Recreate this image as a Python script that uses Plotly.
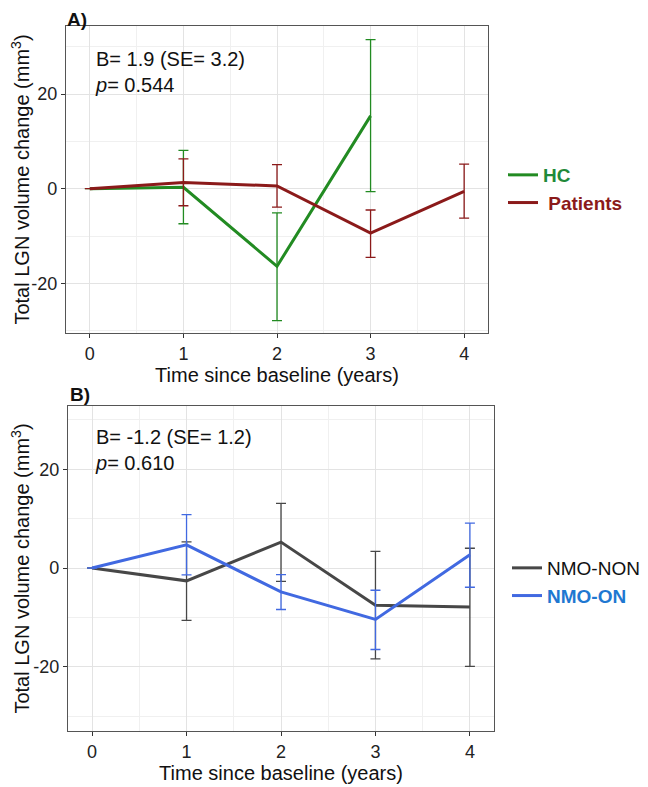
import plotly.graph_objects as go

# ---- Data ----
years = [0, 1, 2, 3, 4]

hc_years = [0, 1, 2, 3]
hc_mean = [0, 0.3, -16.4, 15.4]
hc_low = [0, -7.4, -27.9, -0.6]
hc_high = [0, 8.1, -5.1, 31.5]

pat_mean = [0, 1.3, 0.6, -9.4, -0.55]
pat_low = [0, -3.6, -3.9, -14.5, -6.2]
pat_high = [0, 6.3, 5.1, -4.5, 5.2]

non_mean = [0, -2.6, 5.25, -7.55, -7.9]
non_low = [0, -10.6, -2.7, -18.4, -19.9]
non_high = [0, 5.3, 13.1, 3.35, 4.0]

on_mean = [0, 4.7, -4.85, -10.4, 2.7]
on_low = [0, -1.4, -8.4, -16.5, -3.9]
on_high = [0, 10.8, -1.35, -4.5, 9.1]

x_ticks = [0, 1, 2, 3, 4]
x_tick_labels = ["0", "1", "2", "3", "4"]
y_ticks = [-20, 0, 20]
y_tick_labels = ["-20", "0", "20"]

# the page body has an 8px margin; lay out the figure in window pixels
OFF = 8
W, H = 648 - OFF, 787 - OFF
FONT = "Liberation Sans, Arial, sans-serif"


def err(mean, low, high, color):
    return dict(type="data", symmetric=False,
                array=[h - m for h, m in zip(high, mean)],
                arrayminus=[m - l for m, l in zip(mean, low)],
                color=color, thickness=1.3, width=5)


C_HC = "#228B22"
C_PAT = "#8B1A1A"
C_NON = "#474747"
C_ON = "#4169E1"

fig = go.Figure()
fig.add_trace(go.Scatter(x=hc_years, y=hc_mean, mode="lines",
                         line=dict(color=C_HC, width=3),
                         error_y=err(hc_mean, hc_low, hc_high, C_HC),
                         name="<b><span style='color:#1f8a3a'>HC</span></b>",
                         xaxis="x", yaxis="y", legend="legend"))
fig.add_trace(go.Scatter(x=years, y=pat_mean, mode="lines",
                         line=dict(color=C_PAT, width=3),
                         error_y=err(pat_mean, pat_low, pat_high, C_PAT),
                         name="<b><span style='color:#8B1A1A'> Patients</span></b>",
                         xaxis="x", yaxis="y", legend="legend"))
fig.add_trace(go.Scatter(x=years, y=non_mean, mode="lines",
                         line=dict(color=C_NON, width=3),
                         error_y=err(non_mean, non_low, non_high, C_NON),
                         name="<span style='color:#111111'>NMO-NON</span>",
                         xaxis="x2", yaxis="y2", legend="legend2"))
fig.add_trace(go.Scatter(x=years, y=on_mean, mode="lines",
                         line=dict(color=C_ON, width=3),
                         error_y=err(on_mean, on_low, on_high, C_ON),
                         name="<b><span style='color:#1f78d1'>NMO-ON</span></b>",
                         xaxis="x2", yaxis="y2", legend="legend2"))


def px_x(p):
    return (p - OFF) / W


def px_y(p):
    return 1 - (p - OFF) / H


common_x = dict(tickmode="array", tickvals=x_ticks, ticktext=x_tick_labels,
                ticks="outside", ticklen=4,
                tickcolor="#333333", tickfont=dict(size=18, color="#222222"),
                showline=True, linecolor="#555555", linewidth=1.3, mirror=True,
                showgrid=True, gridcolor="#e3e3e3", gridwidth=1,
                minor=dict(tickmode="array", tickvals=[0.5, 1.5, 2.5, 3.5],
                           showgrid=True, gridcolor="#f0f0f0", gridwidth=0.7),
                zeroline=False, range=[-0.255, 4.255],
                title=dict(text="Time since baseline (years)",
                           font=dict(size=20, color="#111111"), standoff=4))
common_y = dict(tickmode="array", tickvals=y_ticks, ticktext=y_tick_labels,
                ticks="outside", ticklen=4,
                tickcolor="#333333", tickfont=dict(size=18, color="#222222"),
                showline=True, linecolor="#555555", linewidth=1.3, mirror=True,
                showgrid=True, gridcolor="#e3e3e3", gridwidth=1,
                minor=dict(tickmode="array", tickvals=[-30, -10, 10, 30],
                           showgrid=True, gridcolor="#f0f0f0", gridwidth=0.7),
                zeroline=False,
                title=dict(text="Total LGN volume change (mm<sup>3</sup>)",
                           font=dict(size=20, color="#111111"), standoff=6))

fig.update_layout(
    width=W, height=H,
    margin=dict(l=0, r=0, t=0, b=0),
    paper_bgcolor="white", plot_bgcolor="white",
    font=dict(family=FONT, color="#111111"),
    xaxis=dict(common_x, domain=[px_x(66), px_x(488)], anchor="y"),
    yaxis=dict(common_y, domain=[px_y(333), px_y(26)], anchor="x",
               range=[-30.5, 34.4]),
    xaxis2=dict(common_x, domain=[px_x(68), px_x(494)], anchor="y2"),
    yaxis2=dict(common_y, domain=[px_y(731), px_y(406)], anchor="x2",
                range=[-33, 32.8]),
    legend=dict(x=px_x(503), y=px_y(156), xanchor="left", yanchor="top",
                font=dict(size=19, family=FONT), bgcolor="rgba(0,0,0,0)",
                itemwidth=30, tracegroupgap=0),
    legend2=dict(x=px_x(507), y=px_y(549), xanchor="left", yanchor="top",
                 font=dict(size=19, family=FONT), bgcolor="rgba(0,0,0,0)",
                 itemwidth=30, tracegroupgap=0),
    annotations=[
        dict(text="<b>A)</b>", x=px_x(66), y=1, xref="paper", yref="paper",
             xanchor="left", yanchor="top", showarrow=False, borderpad=0,
             font=dict(size=19, color="#111111")),
        dict(text="<b>B)</b>", x=px_x(68), y=px_y(394), xref="paper", yref="paper",
             xanchor="left", yanchor="middle", showarrow=False,
             font=dict(size=19, color="#111111")),
        dict(text="B= 1.9 (SE= 3.2)<br><i>p</i>= 0.544", x=px_x(93), y=px_y(46),
             xref="paper", yref="paper", xanchor="left", yanchor="top",
             align="left", showarrow=False, font=dict(size=20, color="#111111")),
        dict(text="B= -1.2 (SE= 1.2)<br><i>p</i>= 0.610", x=px_x(93), y=px_y(424),
             xref="paper", yref="paper", xanchor="left", yanchor="top",
             align="left", showarrow=False, font=dict(size=20, color="#111111")),
    ],
)

fig.write_html("out.html")
